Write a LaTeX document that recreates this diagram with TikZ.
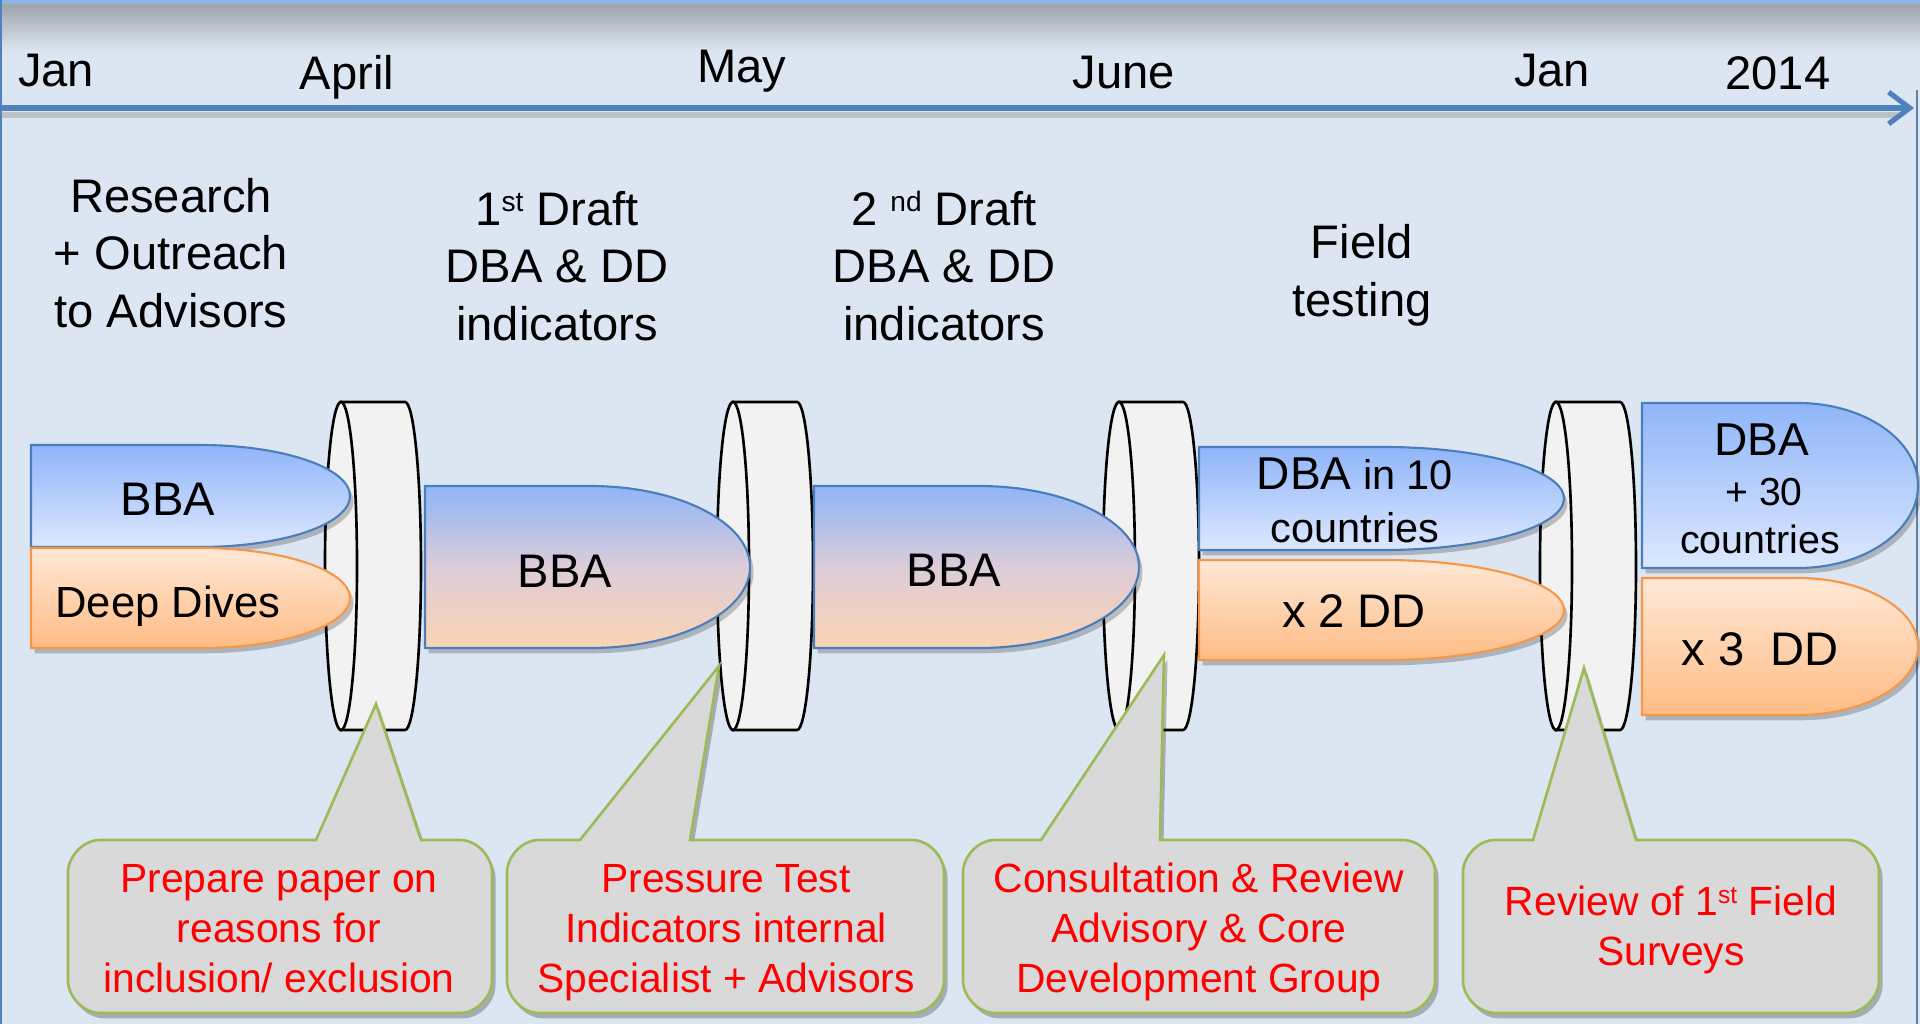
\documentclass[tikz,border=0pt]{standalone}
\usepackage{fontspec}
\setmainfont{Liberation Sans}
\usetikzlibrary{arrows.meta,shadows}
\definecolor{bg}{HTML}{DCE6F2}
\definecolor{axis}{HTML}{4F81BD}
\definecolor{blueT}{HTML}{8FB5F8}
\definecolor{blueB}{HTML}{DDE8FF}
\definecolor{oraT}{HTML}{FFE8D6}
\definecolor{oraB}{HTML}{FFBC85}
\definecolor{blueLine}{HTML}{4A7EBB}
\definecolor{oraLine}{HTML}{F79646}
\definecolor{mixM}{HTML}{DCCCD8}
\definecolor{mixB}{HTML}{FBD4B4}
\definecolor{discfill}{HTML}{F2F2F2}
\definecolor{callfill}{HTML}{D9D9D9}
\definecolor{callline}{HTML}{9BBB59}
\definecolor{topgray}{HTML}{9FA4AB}
\definecolor{topblue}{HTML}{8DB6E6}

% small raised ordinal: #1 raise, #2 font size, #3 text
\newcommand\ordsup[3]{\raisebox{#1}{\fontsize{#2}{#2}\selectfont #3}}

% bullet-shaped bar: #1 style, #2 left x, #3 x where the round end starts, #4 x radius, #5 top y, #6 bottom y
\newcommand\bulletbar[6]{%
  \path[#1] (#2,#5) -- (#3,#5)
    .. controls ({#3+0.552*#4},#5) and ({#3+#4},{#5+0.224*(#6-#5)}) .. ({#3+#4},{0.5*(#5+#6)})
    .. controls ({#3+#4},{#6-0.224*(#6-#5)}) and ({#3+0.552*#4},#6) .. (#3,#6)
    -- (#2,#6) -- cycle;}
% disc lying on its side: #1 centre x of the front face
\newcommand\discshape[1]{%
  \path[discbody] (#1,402) -- ({#1+64},402)
    .. controls ({#1+64+8.8},402) and ({#1+80},{566-90.5}) .. ({#1+80},566)
    .. controls ({#1+80},{566+90.5}) and ({#1+64+8.8},730) .. ({#1+64},730)
    -- (#1,730) -- cycle;
  \path[discbody] (#1,566) ellipse [x radius=0.16cm, y radius=1.64cm];}
% callout: #1 left x, #2 right x, #3 pointer base left, #4 pointer base right, #5 tip x, #6 tip y
\newcommand\callout[6]{%
  \path[callbox] (#3,840) -- (#5,#6) -- (#4,840) -- ({#2-32},840)
    .. controls ({#2-14.3},840) and (#2,857.7) .. (#2,872) -- (#2,981)
    .. controls (#2,995.3) and ({#2-14.3},1013) .. ({#2-32},1013) -- ({#1+32},1013)
    .. controls ({#1+14.3},1013) and (#1,995.3) .. (#1,981) -- (#1,872)
    .. controls (#1,857.7) and ({#1+14.3},840) .. ({#1+32},840) -- cycle;}

\begin{document}
\begin{tikzpicture}[x=0.01cm, y=-0.01cm,
  hd/.style={font=\fontsize{13.4}{16.3}\selectfont, align=center, inner sep=0, anchor=base},
  mon/.style={font=\fontsize{13.4}{16}\selectfont, inner sep=0, anchor=base},
  bartxt/.style={font=\fontsize{13.4}{16}\selectfont, inner sep=0, anchor=base, align=center},
  calltxt/.style={font=\fontsize{11.6}{14.2}\selectfont, text=red, inner sep=0, anchor=base, align=center},
  barshadow/.style={drop shadow={shadow xshift=1pt, shadow yshift=-1.5pt, opacity=0.22, fill=black}},
  bluebar/.style={top color=blueT, bottom color=blueB, draw=blueLine, line width=0.6pt, barshadow},
  orabar/.style={top color=oraT, bottom color=oraB, draw=oraLine, line width=0.6pt, barshadow},
  mixbar/.style={top color=blueT, bottom color=mixB, middle color=mixM, draw=blueLine, line width=0.6pt, barshadow},
  discbody/.style={fill=discfill, draw=black, line width=0.75pt},
  callbox/.style={fill=callfill, draw=callline, line width=0.75pt,
    drop shadow={shadow xshift=1pt, shadow yshift=-1.5pt, opacity=0.25, fill=black}},
  axisline/.style={draw=axis, line width=1.45pt, -{Straight Barb[length=6pt,width=9pt]}}
]
% background and frame
\fill[bg] (0,0) rectangle (1920,1024);
\useasboundingbox (0,0) rectangle (1920,1024);
\shade[top color=topgray, bottom color=bg] (0,4) rectangle (1920,52);
\fill[topblue] (0,0) rectangle (1920,4);
\draw[axis, line width=0.6pt] (1,0) -- (1,1024);
\draw[axis!70!gray, line width=0.5pt] (1917,90) -- (1917,1024);

% timeline
\coordinate (axisL) at (0,108);
\coordinate (axisR) at (1914,108);
\draw[gray, opacity=0.35, line width=1.6pt] (0,115) -- (1900,115);
\draw[axisline] (axisL) -- (axisR);

\node[mon] (mJan) at (56,87) {Jan};
\node[mon] (mApr) at (347,90) {April};
\node[mon] (mMay) at (742,83) {May};
\node[mon] (mJun) at (1124,88) {June};
\node[mon] (mJan2) at (1552,87) {Jan};
\node[mon] (m2014) at (1778,90) {2014};

% headings (base = baseline of the last line)
\node[hd] (hResearch) at (171,327) {Research\\+ Outreach\\to Advisors};
\node[hd] (hFirst) at (557,340) {1\ordsup{3.9pt}{8}{st} Draft\\DBA \& DD\\indicators};
\node[hd] (hSecond) at (944,340) {2 \ordsup{3.9pt}{8}{nd} Draft\\DBA \& DD\\indicators};
\node[hd] (hField) at (1362,316) {Field\\testing};

% discs
\discshape{341}
\discshape{733}
\discshape{1119}
\discshape{1556}

% bars
\bulletbar{bluebar}{31}{200}{150}{445}{547}
\bulletbar{orabar}{31}{200}{150}{548}{648}
\bulletbar{mixbar}{425}{590}{160}{486}{648}
\bulletbar{mixbar}{814}{979}{160}{486}{648}
\bulletbar{bluebar}{1199}{1384}{180}{447}{550}
\bulletbar{orabar}{1199}{1384}{180}{560}{660}
\bulletbar{bluebar}{1642}{1798}{120}{403}{568}
\bulletbar{orabar}{1642}{1798}{120}{578}{715}

\node[bartxt] (tBBA1) at (168,515) {BBA};
\node[bartxt, font=\fontsize{12.4}{15}\selectfont] (tDD) at (168,617) {Deep Dives};
\node[bartxt] (tBBA2) at (565,587) {BBA};
\node[bartxt] (tBBA3) at (954,586) {BBA};
\node[bartxt, font=\fontsize{11.8}{14.8}\selectfont] (tDBA10) at (1355,542)
  {{\fontsize{13.1}{14.8}\selectfont DBA} in 10\\countries};
\node[bartxt] (tDD2) at (1354,627) {x 2 DD};
\node[bartxt, font=\fontsize{13.1}{14}\selectfont] (tDBA30) at (1762,455) {DBA};
\node[bartxt, font=\fontsize{11.1}{14}\selectfont] (tPlus30) at (1764,505) {+ 30};
\node[bartxt, font=\fontsize{11.2}{14}\selectfont] (tCountries) at (1760,553) {countries};
\node[bartxt] (tDD3) at (1760,665) {x 3\ \ DD};

% callouts
\callout{68}{492}{316}{421}{376}{704}
\callout{507}{944}{580}{690}{719}{666}
\callout{963}{1435}{1041}{1160}{1164}{655}
\callout{1463}{1879}{1533}{1636}{1584}{668}

\node[calltxt] (c1) at (279,992) {Prepare paper on\\reasons for\\inclusion/ exclusion};
\node[calltxt] (c2) at (726,992) {Pressure Test\\Indicators internal\\Specialist + Advisors};
\node[calltxt] (c3) at (1199,992) {Consultation \& Review\\Advisory \& Core\\Development Group};
\node[calltxt] (c4) at (1671,965) {Review of 1\ordsup{3.3pt}{7}{st} Field\\Surveys};
\end{tikzpicture}
\end{document}
